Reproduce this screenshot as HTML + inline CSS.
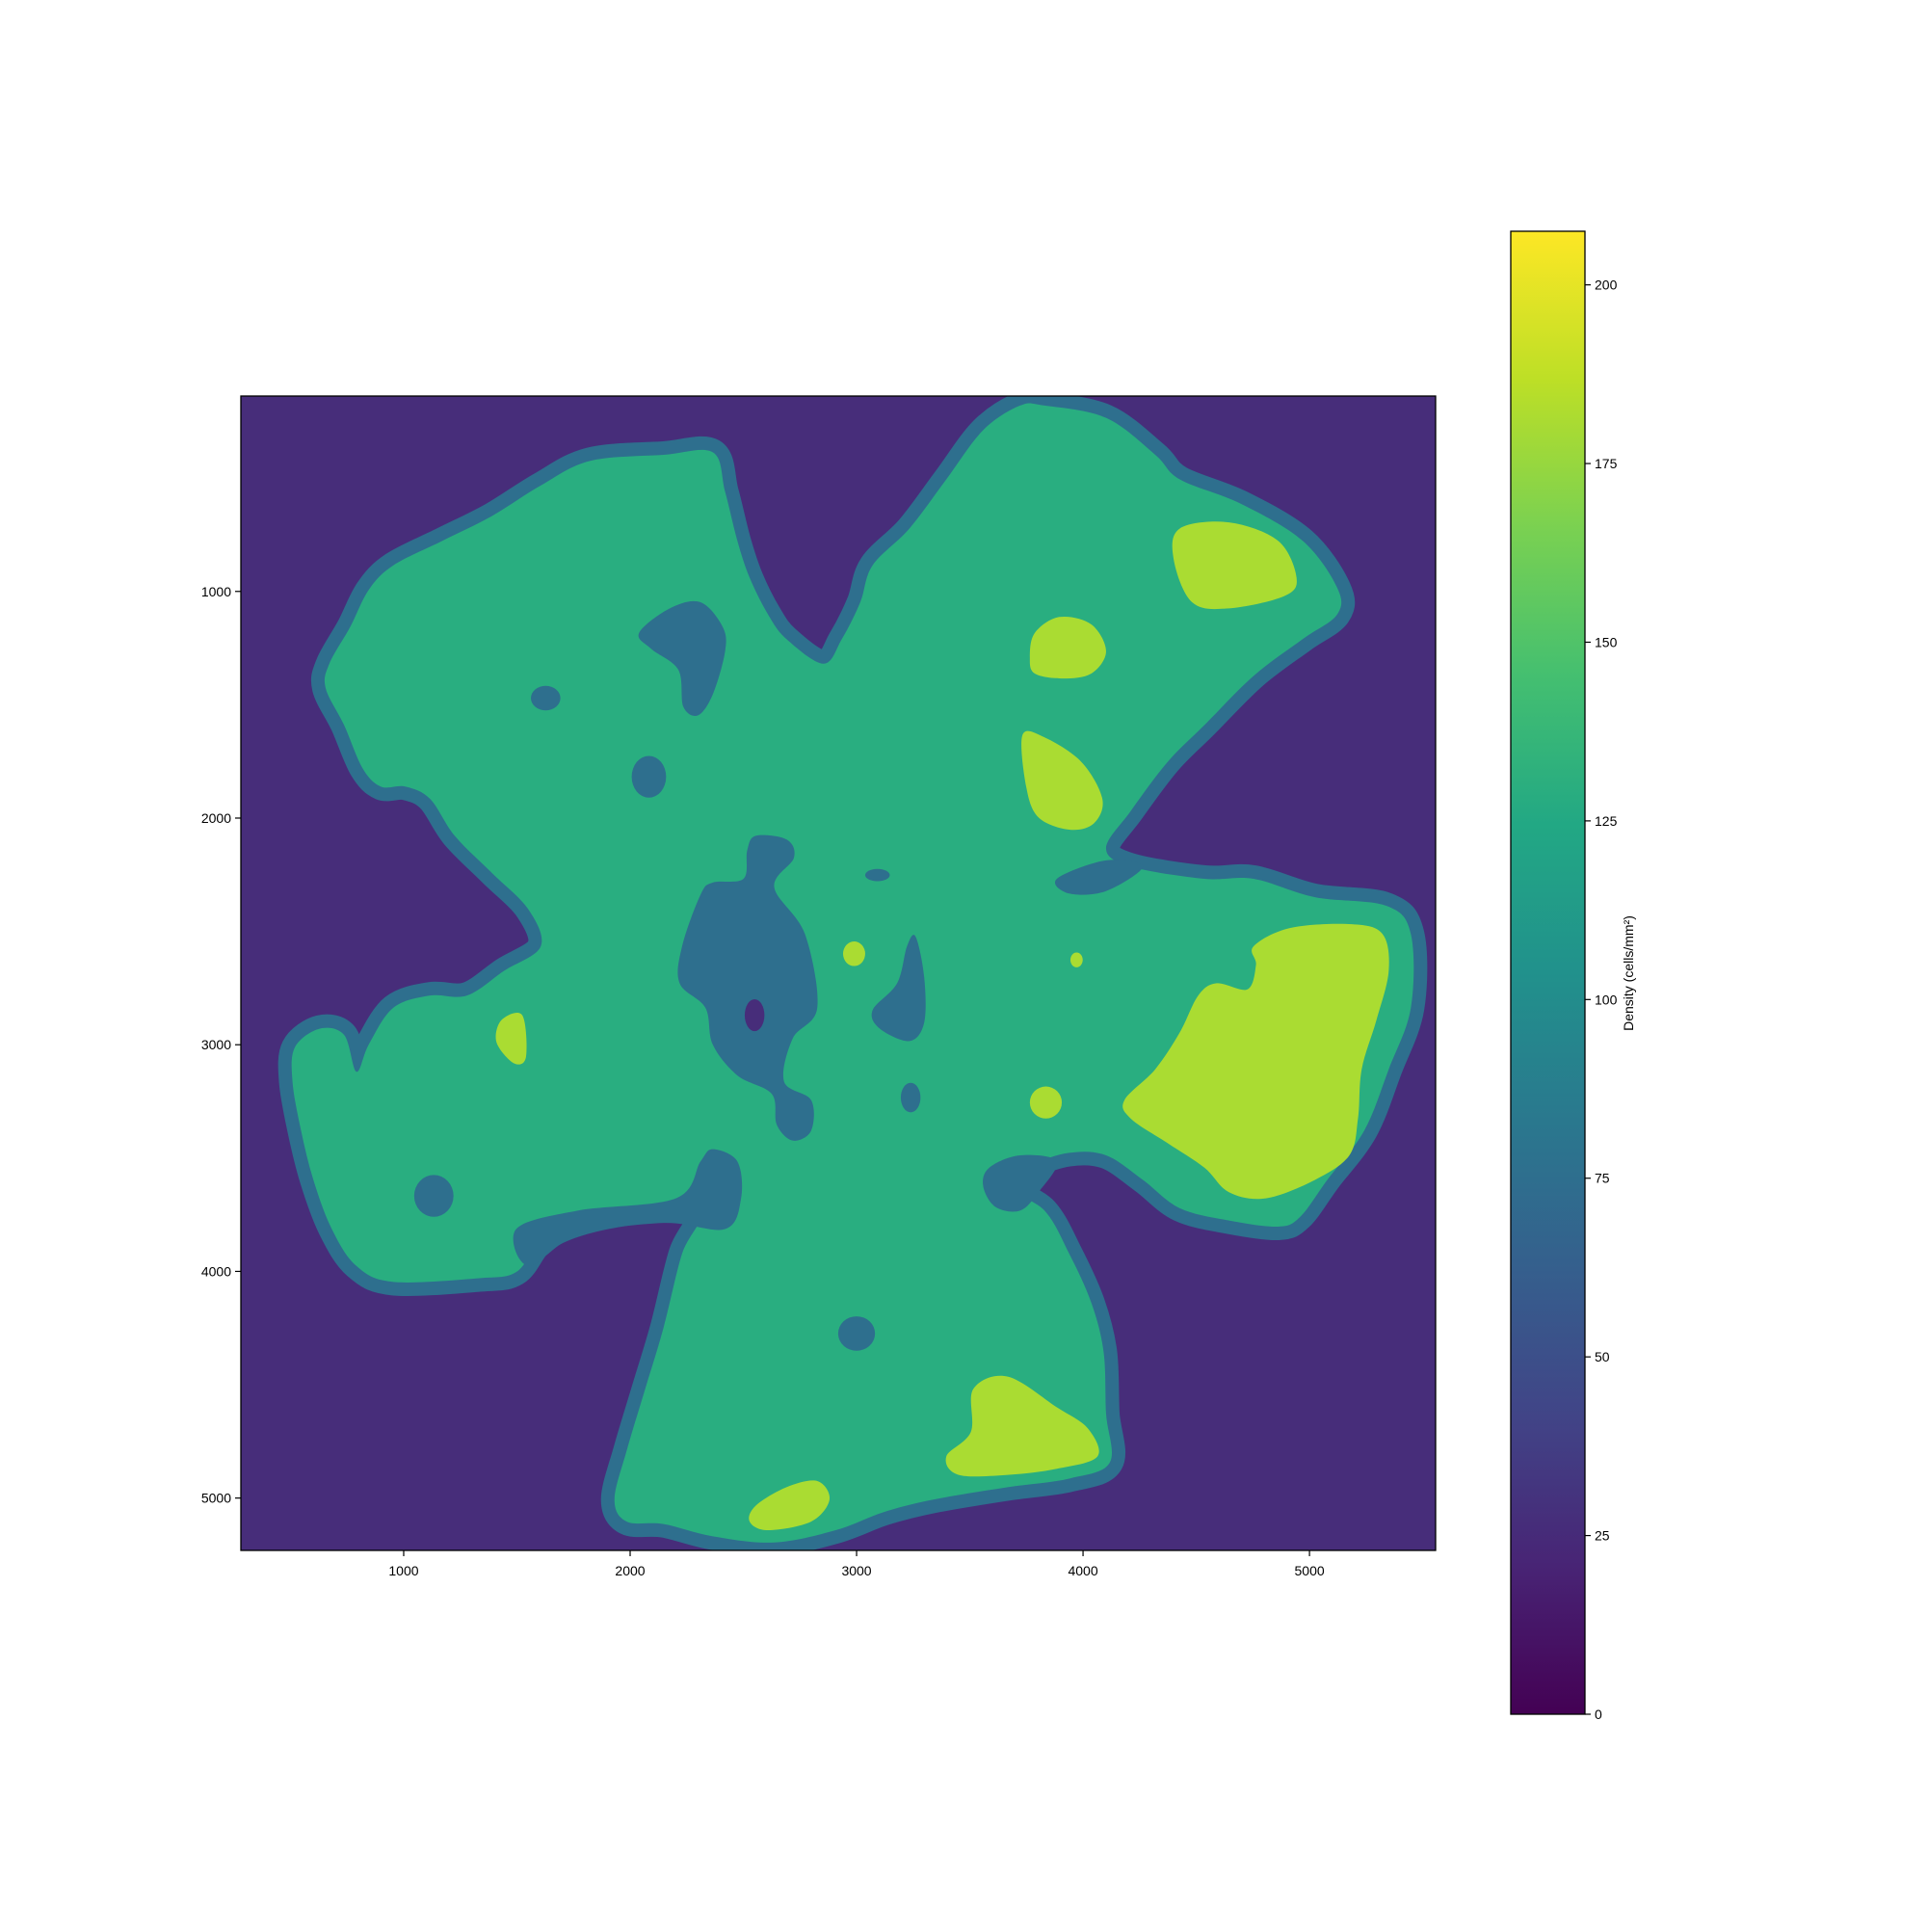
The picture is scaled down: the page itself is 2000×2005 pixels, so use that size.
<!DOCTYPE html>
<html><head><meta charset="utf-8"><style>
html,body{margin:0;padding:0;background:#fff}
svg text{font-family:"Liberation Sans","DejaVu Sans",sans-serif;font-size:14px;fill:#000}
</style></head><body>
<svg id="chart" width="2000" height="2000" viewBox="0 0 2000 2000" xmlns="http://www.w3.org/2000/svg">
<defs>
<linearGradient id="vir" x1="0" y1="1" x2="0" y2="0">
<stop offset="0" stop-color="#440154"/><stop offset="0.1" stop-color="#482475"/><stop offset="0.2" stop-color="#414487"/><stop offset="0.3" stop-color="#355f8d"/><stop offset="0.4" stop-color="#2a788e"/><stop offset="0.5" stop-color="#21918c"/><stop offset="0.6" stop-color="#22a884"/><stop offset="0.7" stop-color="#44bf70"/><stop offset="0.8" stop-color="#7ad151"/><stop offset="0.9" stop-color="#bddf26"/><stop offset="1" stop-color="#fde725"/>
</linearGradient>
<clipPath id="axclip"><rect x="250" y="411" width="1240" height="1198"/></clipPath>
</defs>
<rect x="250" y="411" width="1240" height="1198" fill="#472d7a"/>
<g id="shapes" clip-path="url(#axclip)"><g id="inner" transform="scale(1.27551)"></g></g>
<rect x="250" y="411" width="1240" height="1198" fill="none" stroke="#000" stroke-width="1.3"/>
<g id="xaxis"></g>
<g id="yaxis"></g>
<rect x="1568" y="240" width="77" height="1539" fill="url(#vir)" stroke="#000" stroke-width="1.3"/>
<g id="cbaxis"></g>
<text x="1695" y="1010" text-anchor="middle" transform="rotate(-90 1695 1010)">Density (cells/mm²)</text>
</svg>
<script>
const xTicks=[1000,2000,3000,4000,5000];
const yTicks=[1000,2000,3000,4000,5000];
const cbTicks=[0,25,50,75,100,125,150,175,200];
const xDomain=[281,5557], yDomain=[138,5231], cbDomain=[0,207.5];
const NS="http://www.w3.org/2000/svg";
function xs(v){return 250+(v-xDomain[0])/(xDomain[1]-xDomain[0])*1240;}
function ys(v){return 411+(v-yDomain[0])/(yDomain[1]-yDomain[0])*1198;}
function cs(v){return 1779-(v-cbDomain[0])/(cbDomain[1]-cbDomain[0])*1539;}
function mk(tag,attrs,parent){const e=document.createElementNS(NS,tag);for(const k in attrs)e.setAttribute(k,attrs[k]);parent.appendChild(e);return e;}
const xg=document.getElementById('xaxis'),yg=document.getElementById('yaxis'),cg=document.getElementById('cbaxis');
xTicks.forEach(t=>{const x=xs(t);
 const l=mk('line',{x1:x,x2:x,y1:1609,y2:1615,stroke:'#000','stroke-width':1.2},xg);
 
 
 const tx=mk('text',{x:x,y:1635,'text-anchor':'middle'},xg);tx.textContent=t;
 
 });
yTicks.forEach(t=>{const y=ys(t);
 const l=mk('line',{x1:244,x2:250,y1:y,y2:y,stroke:'#000','stroke-width':1.2},yg);
 
 
 const tx=mk('text',{x:240,y:y+5,'text-anchor':'end'},yg);tx.textContent=t;
 
 });
cbTicks.forEach(t=>{const y=cs(t);
 const l=mk('line',{x1:1645,x2:1651,y1:y,y2:y,stroke:'#000','stroke-width':1.2},cg);
 
 
 const tx=mk('text',{x:1655,y:y+5,'text-anchor':'start'},cg);tx.textContent=t;
 
 });

function smooth(p){const n=p.length;let d=`M${p[0][0]},${p[0][1]}`;
 for(let i=0;i<n;i++){const p0=p[(i-1+n)%n],p1=p[i],p2=p[(i+1)%n],p3=p[(i+2)%n];
  const c1=[p1[0]+(p2[0]-p0[0])/6,p1[1]+(p2[1]-p0[1])/6],c2=[p2[0]-(p3[0]-p1[0])/6,p2[1]-(p3[1]-p1[1])/6];
  d+=`C${c1[0]},${c1[1]} ${c2[0]},${c2[1]} ${p2[0]},${p2[1]}`;}return d+'Z';}
const TEAL='#2e6f8e',GREEN='#29ae80',LIME='#aadc32',BG='#472d7a';
const inner=document.getElementById('inner');
function shape(pts,fill,name,stroke){const a={d:smooth(pts),fill:fill};
 if(stroke){a.stroke=TEAL;a['stroke-width']=stroke;a['stroke-linejoin']='round';a['paint-order']='stroke';}
 const e=mk('path',a,inner);
 
 }
function ell(cx,cy,rx,ry,fill,name){const e=mk('ellipse',{cx:cx,cy:cy,rx:rx,ry:ry,fill:fill},inner);
 
 }
const outer=[[850,330],[900,340],[940,370],[960,390],[1010,410],[1060,440],[1088,478],[1088,500],[1060,520],[1020,550],[980,590],[950,620],[920,660],[900,690],[920,705],[980,715],[1020,715],[1070,730],[1128,737],[1148,760],[1148,820],[1130,870],[1110,920],[1080,960],[1058,990],[1040,998],[1000,993],[960,983],[930,960],[900,940],[870,938],[840,948],[820,965],[850,985],[870,1020],[888,1060],[898,1100],[900,1150],[903,1190],[870,1203],[820,1210],[760,1220],[720,1230],[680,1245],[630,1255],[580,1250],[540,1240],[510,1238],[500,1220],[510,1180],[525,1130],[540,1080],[555,1020],[570,985],[520,985],[470,995],[440,1010],[420,1035],[390,1040],[320,1043],[290,1030],[270,1000],[255,960],[245,920],[238,880],[240,852],[260,837],[280,842],[290,872],[300,850],[320,820],[350,810],[380,810],[410,790],[440,770],[430,740],[400,710],[370,680],[350,650],[330,640],[310,640],[295,625],[280,590],[265,560],[268,540],[285,510],[300,480],[320,460],[360,440],[400,420],[440,395],[480,375],[540,370],[580,368],[590,400],[600,440],[610,470],[625,500],[640,520],[670,540],[685,520],[700,490],[710,460],[740,430],[770,390],[800,350],[830,330]];
shape(outer,GREEN,'tissue-region',22);
shape([[420,1000],[470,985],[550,975],[570,945],[580,935],[600,945],[603,975],[590,1000],[540,995],[470,1005],[430,1030]],TEAL,'teal-edge-bottom-left');
shape([[805,950],[830,940],[860,945],[845,970],[830,985],[810,982],[800,965]],TEAL,'teal-edge-bottom-right');
shape([[860,715],[900,700],[930,705],[900,725],[870,727]],TEAL,'teal-edge-right');
shape([[520,515],[545,495],[570,490],[588,510],[590,530],[580,565],[568,582],[556,575],[552,545],[530,528]],TEAL,'low-density-blob-1');
ell(444,568,12,10,TEAL,'low-density-blob-2');
ell(528,632,14,17,TEAL,'low-density-blob-3');
shape([[615,680],[640,683],[646,698],[630,722],[655,760],[665,820],[645,845],[638,880],[660,895],[660,920],[645,928],[632,915],[628,890],[600,875],[580,850],[574,820],[553,800],[555,770],[570,728],[580,718],[605,715],[608,692]],TEAL,'low-density-center');
ell(614,826,8,13,BG,'very-low-spot');
ell(714,712,10,5,TEAL,'low-density-blob-4');
ell(695,776,9,10,LIME,'high-density-dot-1');
shape([[745,762],[752,795],[752,832],[740,847],[716,837],[710,822],[730,800],[738,770]],TEAL,'low-density-blob-5');
ell(741,893,8,12,TEAL,'low-density-blob-6');
ell(876,781,5,6,LIME,'high-density-dot-2');
ell(851,897,13,13,LIME,'high-density-dot-3');
ell(353,973,16,17,TEAL,'low-density-blob-7');
ell(697,1085,15,14,TEAL,'low-density-blob-8');
shape([[960,430],[1000,425],[1040,440],[1055,470],[1045,485],[1000,495],[970,490],[955,455]],LIME,'high-density-1');
shape([[842,515],[862,502],[888,508],[900,530],[888,548],[865,552],[842,548],[838,535]],LIME,'high-density-2');
shape([[832,598],[850,600],[880,620],[897,650],[890,670],[870,675],[845,665],[835,640]],LIME,'high-density-3');
shape([[408,830],[425,826],[428,860],[418,865],[404,848]],LIME,'high-density-4');
shape([[1020,770],[1050,755],[1100,752],[1125,760],[1130,790],[1120,830],[1108,870],[1105,910],[1098,940],[1070,960],[1030,975],[1000,970],[980,950],[950,930],[920,910],[915,895],[940,870],[960,840],[975,810],[990,800],[1015,805],[1022,785]],LIME,'high-density-5');
shape([[792,1130],[820,1120],[860,1145],[885,1162],[893,1185],[860,1195],[820,1200],[780,1200],[770,1185],[790,1165]],LIME,'high-density-6');
shape([[615,1225],[640,1210],[665,1205],[675,1220],[660,1238],[625,1245],[610,1238]],LIME,'high-density-7');
</script>
</body></html>
